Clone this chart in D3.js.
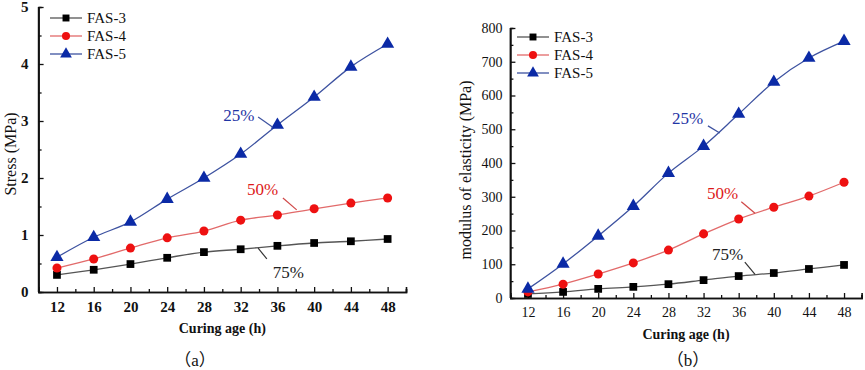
<!DOCTYPE html>
<meta charset="utf-8">
<style>
  body { margin: 0; background: #fff; }
  svg { display: block; }
  .tickBold { font: bold 15px "Liberation Serif", "Times New Roman", serif; }
  .tickPlain { font: 14px "Liberation Serif", "Times New Roman", serif; }
  .legend { font: 15px "Liberation Serif", "Times New Roman", serif; }
  .xtitle { font: bold 14px "Liberation Serif", "Times New Roman", serif; }
  .ytitle { font: 16px "Liberation Serif", "Times New Roman", serif; }
  .note { font: 17px "Liberation Serif", "Times New Roman", serif; }
  .cap { font: 17px "Liberation Serif", "Noto Sans CJK SC", serif; }
</style>
<body>
<svg width="865" height="370"></svg>
<script src="https://d3js.org/d3.v7.min.js"></script>
<script>
// curing age (h)
var ages = [12, 16, 20, 24, 28, 32, 36, 40, 44, 48];
var xTicks = [12, 16, 20, 24, 28, 32, 36, 40, 44, 48];

// (a) stress, MPa
var stressFAS3 = [0.30, 0.39, 0.49, 0.60, 0.70, 0.75, 0.81, 0.86, 0.89, 0.93];
var stressFAS4 = [0.42, 0.58, 0.77, 0.95, 1.07, 1.26, 1.35, 1.46, 1.56, 1.65];
var stressFAS5 = [0.61, 0.96, 1.23, 1.63, 2.00, 2.42, 2.93, 3.42, 3.95, 4.35];
var stressTicks = [0, 1, 2, 3, 4, 5];

// (b) modulus of elasticity, MPa
var modFAS3 = [12, 18, 27, 33, 41, 53, 65, 74, 86, 98];
var modFAS4 = [18, 41, 71, 104, 142, 190, 234, 269, 302, 343];
var modFAS5 = [27, 101, 184, 272, 370, 450, 545, 640, 711, 761];
var modTicks = [0, 100, 200, 300, 400, 500, 600, 700, 800];

var seriesNames = ["FAS-3", "FAS-4", "FAS-5"];
var lineColors = ["#555555", "#e26a6a", "#3d52a0"];
var markColors = ["#000000", "#ee1111", "#0b2aa6"];
var markShapes = [d3.symbolSquare, d3.symbolCircle, d3.symbolTriangle];
var markSizes = [60, 64, 75];

var svg = d3.select("svg");

function panel(o) {
  var x = d3.scaleLinear().domain([10, 50]).range([o.left, o.right]);
  var y = d3.scaleLinear().domain(o.yDomain).range([o.bottom, o.top]);
  var g = svg.append("g");

  // axes, ticks pointing inward
  var xa = g.append("g").attr("transform", "translate(0," + o.bottom + ")")
    .call(d3.axisBottom(x).tickValues(xTicks).tickSize(-5).tickPadding(12).tickFormat(d3.format("d")));
  xa.append("g").call(d3.axisBottom(x).tickValues(d3.range(10, 51, 2).filter(function(v){ return xTicks.indexOf(v) < 0; })).tickSize(-3).tickFormat(""));
  var ya = g.append("g").attr("transform", "translate(" + o.left + ",0)")
    .call(d3.axisLeft(y).tickValues(o.yTicks).tickSize(-5).tickPadding(o.yPad).tickFormat(d3.format("d")));
  var minorY = [];
  for (var i = 0; i < o.yTicks.length - 1; i++) minorY.push((o.yTicks[i] + o.yTicks[i + 1]) / 2);
  ya.append("g").call(d3.axisLeft(y).tickValues(minorY).tickSize(-3).tickFormat(""));
  g.selectAll(".domain").attr("stroke", "#111").attr("stroke-width", 1.6);
  g.selectAll(".tick line").attr("stroke", "#111").attr("stroke-width", 1.3);
  xa.selectAll(".tick text").attr("class", o.tickClass).attr("fill", "#111").attr("dy", "0.5em");
  ya.selectAll(".tick text").attr("class", o.tickClass).attr("fill", "#111");
  ya.select(".domain").attr("d", "M0," + o.bottom + "V" + o.top);

  // lines
  var line = d3.line().curve(d3.curveCatmullRom.alpha(0.5))
    .x(function(d, i) { return x(ages[i]); })
    .y(function(d) { return y(d); });
  o.series.forEach(function(s, k) {
    g.append("path").attr("d", line(s)).attr("fill", "none")
      .attr("stroke", lineColors[k]).attr("stroke-width", 1.3);
  });
  o.series.forEach(function(s, k) {
    g.selectAll(null).data(s).enter().append("path")
      .attr("d", d3.symbol().type(markShapes[k]).size(markSizes[k]))
      .attr("transform", function(d, i) { return "translate(" + x(ages[i]) + "," + y(d) + ")"; })
      .attr("fill", markColors[k]);
  });

  // percent labels with leader lines
  o.notes.forEach(function(n) {
    g.append("line").attr("x1", x(n.l[0])).attr("y1", y(n.l[1]))
      .attr("x2", x(n.l[2])).attr("y2", y(n.l[3]))
      .attr("stroke", n.c === 2 ? "#3d52a0" : (n.c === 1 ? "#d04848" : "#333")).attr("stroke-width", 1.2);
    g.append("text").attr("class", "note").attr("x", x(n.t[0])).attr("y", y(n.t[1]))
      .attr("fill", n.c === 2 ? "#1f35a5" : (n.c === 1 ? "#dd1a1a" : "#222")).text(n.text);
  });

  // legend
  seriesNames.forEach(function(name, k) {
    var ly = o.legY + k * o.legGap;
    g.append("line").attr("x1", o.legX).attr("x2", o.legX + 32).attr("y1", ly).attr("y2", ly)
      .attr("stroke", lineColors[k]).attr("stroke-width", 1.3);
    g.append("path").attr("d", d3.symbol().type(markShapes[k]).size(markSizes[k] * 0.8)())
      .attr("transform", "translate(" + (o.legX + 16) + "," + ly + ")").attr("fill", markColors[k]);
    g.append("text").attr("class", "legend").attr("x", o.legX + 37).attr("y", ly + 5)
      .attr("fill", "#111").text(name);
  });

  // titles
  g.append("text").attr("class", "xtitle").attr("text-anchor", "middle")
    .attr("x", x(30)).attr("y", o.bottom + 41).attr("fill", "#111").text("Curing age (h)");
  g.append("text").attr("class", "ytitle").attr("text-anchor", "middle")
    .attr("transform", "translate(" + o.yTitleX + "," + o.yTitleY + ") rotate(-90)")
    .attr("fill", "#111").text(o.yTitle);
  g.append("text").attr("class", "cap").attr("text-anchor", "middle")
    .attr("x", o.capX).attr("y", 366).attr("fill", "#111").text(o.cap);
}

panel({
  left: 38.6, right: 406, top: 7, bottom: 292,
  yDomain: [0, 5], yTicks: stressTicks, yPad: 10, tickClass: "tickBold",
  series: [stressFAS3, stressFAS4, stressFAS5],
  legX: 50, legY: 18, legGap: 18,
  yTitle: "Stress (MPa)", yTitleX: 16, yTitleY: 154, capX: 195, cap: "（a）",
  notes: [
    { text: "25%", c: 2, t: [30.1, 3.0], l: [33.9, 3.07, 35.5, 2.89] },
    { text: "50%", c: 1, t: [32.7, 1.71], l: [36.6, 1.65, 38.1, 1.44] },
    { text: "75%", c: 0, t: [35.5, 0.245], l: [33.9, 0.77, 34.85, 0.58] }
  ]
});

panel({
  left: 510.4, right: 861.6, top: 28, bottom: 298,
  yDomain: [0, 800], yTicks: modTicks, yPad: 8, tickClass: "tickPlain",
  series: [modFAS3, modFAS4, modFAS5],
  legX: 517, legY: 37, legGap: 18,
  yTitle: "modulus of elasticity (MPa)", yTitleX: 471, yTitleY: 170, capX: 688, cap: "（b）",
  notes: [
    { text: "25%", c: 2, t: [28.4, 515], l: [32.5, 510, 33.85, 489] },
    { text: "50%", c: 1, t: [32.4, 293], l: [36.3, 285, 37.86, 251] },
    { text: "75%", c: 0, t: [32.95, 113], l: [36.7, 106, 37.86, 70] }
  ]
});
</script>
</body>
